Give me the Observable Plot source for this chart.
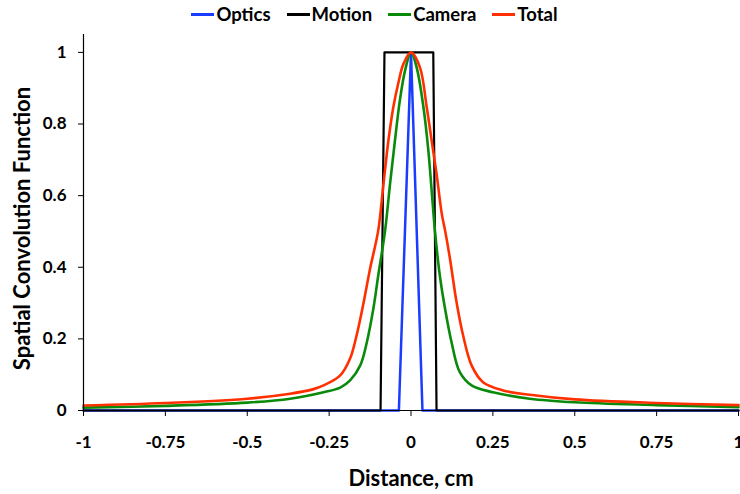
<!DOCTYPE html>
<html>
<head>
<meta charset="utf-8">
<script src="https://cdn.jsdelivr.net/npm/d3@7"></script>
<script src="https://cdn.jsdelivr.net/npm/@observablehq/plot@0.6"></script>
<style>
  html, body { margin: 0; padding: 0; background: #fff; }
  body { width: 740px; height: 494px; overflow: hidden; font-family: Lato, "Open Sans", sans-serif; }
  #legend { height: 28px; display: flex; justify-content: center; align-items: center; gap: 16px; padding-left: 9px; font-weight: bold; font-size: 18.5px; color: #000; }
  .item { display: flex; align-items: center; }
  .sw { display: inline-block; width: 23px; height: 3px; margin-right: 2px; }
</style>
</head>
<body>
<div id="legend"></div>
<div id="chart"></div>
<script>
// Series names and colours
const seriesNames = ["Optics", "Motion", "Camera", "Total"];
const seriesColors = ["#1a3cff", "#000000", "#0a8a0a", "#ff3000"];

// Optics (blue)
const opticsX = [-1, -0.037, 0, 0.035, 1];
const opticsY = [0, 0, 1, 0, 0];

// Motion (black)
const motionX = [-1, -0.093, -0.081, 0.068, 0.078, 1];
const motionY = [0, 0, 1, 1, 0, 0];

// Camera (green)
const cameraX = [-1, -0.75, -0.5, -0.369, -0.267, -0.216, -0.186, -0.155, -0.135, -0.115, -0.1, -0.079, -0.064, -0.049, -0.034, -0.018, 0,
                 0.017, 0.038, 0.053, 0.063, 0.073, 0.088, 0.104, 0.124, 0.149, 0.185, 0.25, 0.363, 0.5, 0.75, 1];
const cameraY = [0.008, 0.013, 0.022, 0.033, 0.051, 0.064, 0.084, 0.126, 0.19, 0.284, 0.377, 0.503, 0.633, 0.754, 0.866, 0.95, 1,
                 0.959, 0.847, 0.726, 0.615, 0.503, 0.377, 0.284, 0.19, 0.107, 0.07, 0.051, 0.033, 0.023, 0.015, 0.009];

// Total (red)
const totalX = [-1, -0.75, -0.5, -0.369, -0.3, -0.267, -0.216, -0.186, -0.166, -0.145, -0.125, -0.1, -0.084, -0.069, -0.054, -0.039, -0.023, 0,
                0.027, 0.048, 0.063, 0.078, 0.094, 0.104, 0.119, 0.139, 0.159, 0.185, 0.22, 0.281, 0.363, 0.5, 0.75, 1];
const totalY = [0.014, 0.021, 0.033, 0.047, 0.059, 0.07, 0.098, 0.145, 0.21, 0.30, 0.396, 0.503, 0.633, 0.754, 0.847, 0.913, 0.968, 1,
                0.959, 0.847, 0.754, 0.661, 0.549, 0.503, 0.424, 0.303, 0.21, 0.126, 0.079, 0.056, 0.044, 0.031, 0.021, 0.015];

// Tick labels
const xTicks = [-1, -0.75, -0.5, -0.25, 0, 0.25, 0.5, 0.75, 1];
const yTicks = [0, 0.2, 0.4, 0.6, 0.8, 1];

const xLabel = "Distance, cm";
const yLabel = "Spatial Convolution Function";

// Build tables
const toRows = (xs, ys) => xs.map((x, i) => ({x, y: ys[i]}));
const optics = toRows(opticsX, opticsY);
const motion = toRows(motionX, motionY);
const camera = toRows(cameraX, cameraY);
const total = toRows(totalX, totalY);

// Legend
const legend = document.getElementById("legend");
seriesNames.forEach((n, i) => {
  const it = document.createElement("span");
  it.className = "item";
  it.innerHTML = `<span class="sw" style="background:${seriesColors[i]}"></span>${n}`;
  legend.appendChild(it);
});

const chart = Plot.plot({
  width: 740,
  height: 466,
  marginTop: 6,
  marginBottom: 84,
  marginLeft: 83,
  marginRight: 2,
  style: {fontFamily: "Lato, 'Open Sans', sans-serif", fontWeight: "bold", fontSize: "18px", color: "#000", background: "#fff", overflow: "visible"},
  x: {domain: [-1, 1]},
  y: {domain: [0, 1.05]},
  marks: [
    Plot.line(optics, {x: "x", y: "y", stroke: seriesColors[0], strokeWidth: 2.5}),
    Plot.line(motion, {x: "x", y: "y", stroke: seriesColors[1], strokeWidth: 2.2}),
    Plot.line(camera, {x: "x", y: "y", stroke: seriesColors[2], strokeWidth: 2.6, curve: "catmull-rom"}),
    Plot.line(total, {x: "x", y: "y", stroke: seriesColors[3], strokeWidth: 2.6, curve: "catmull-rom"}),
    Plot.ruleY([0], {stroke: "#000", strokeWidth: 1.2}),
    Plot.ruleX([-1], {stroke: "#000", strokeWidth: 1.2}),
    Plot.axisX({ticks: xTicks, tickFormat: d => String(d), tickSize: 6, tickPadding: 19, label: null, fontSize: 17, fontWeight: "bold", stroke: "#000"}),
    Plot.axisY({ticks: yTicks, tickFormat: d => String(d), tickSize: 5, tickPadding: 12, label: null, fontSize: 17, fontWeight: "bold", stroke: "#000"}),
    Plot.text([xLabel], {frameAnchor: "bottom", dy: 68, text: d => d, textAnchor: "middle", lineAnchor: "middle", fontSize: 22, fontWeight: "bold", fill: "#000"}),
    Plot.text([yLabel], {frameAnchor: "left", dx: -61, dy: 6, rotate: -90, text: d => d, textAnchor: "middle", lineAnchor: "middle", fontSize: 22, fontWeight: "bold", fill: "#000"})
  ]
});
document.getElementById("chart").appendChild(chart);
</script>
</body>
</html>
